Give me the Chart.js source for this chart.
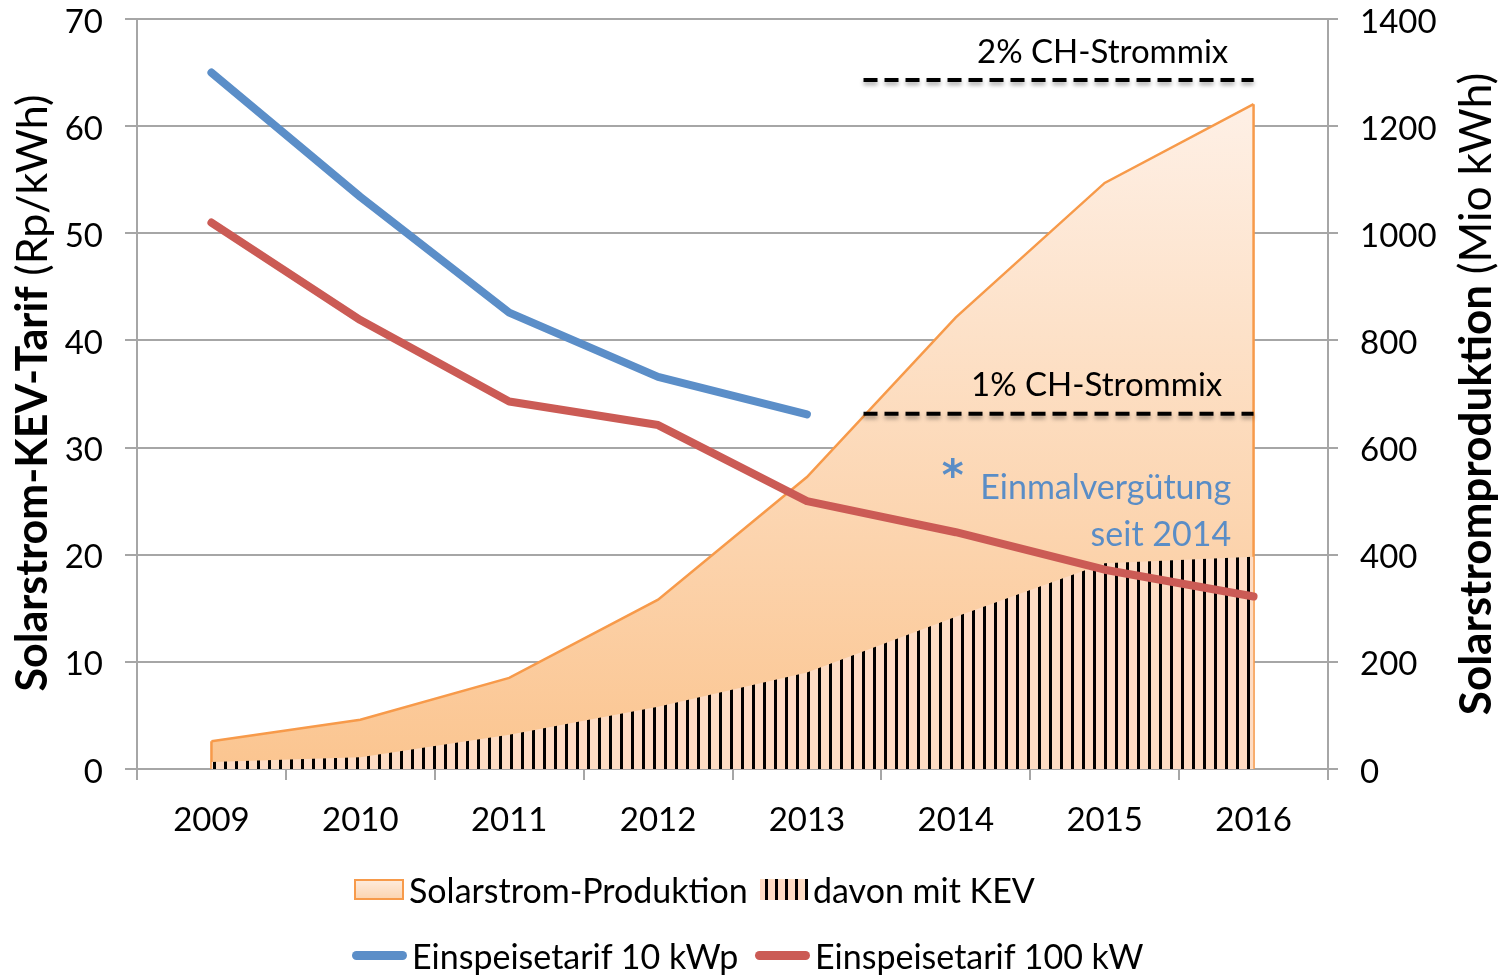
<!DOCTYPE html>
<html lang="de">
<head>
<meta charset="utf-8">
<title>Solarstrom KEV</title>
<script src="https://cdn.jsdelivr.net/npm/chart.js@4.4.1/dist/chart.umd.min.js"></script>
<style>
  html, body { margin: 0; padding: 0; background: #fff; }
  #wrap { position: relative; width: 1504px; height: 975px; }
  #chart { position: absolute; left: 0; top: 0; }
  .leg { position: absolute; display: flex; align-items: center; font-family: Lato, sans-serif; font-size: 34px; color: #000; white-space: nowrap; }
  .swatch { display: inline-block; margin-right: 5px; box-sizing: border-box; }
  .box { width: 50px; height: 21px; border: 2px solid #f79a4a; background: linear-gradient(#fdeadb, #fcd5b2); }
  .hatch { width: 48px; height: 21px; background: repeating-linear-gradient(90deg, #fddcc4 0 5px, #000 5px 8px, #fddcc4 8px 10px); }
  .ln { width: 55px; height: 9px; border-radius: 5px; }
</style>
</head>
<body>
<div id="wrap">
  <canvas id="chart" width="1504" height="975"></canvas>
  <div class="leg" style="left:354px; top:869px;"><span class="swatch box"></span>Solarstrom-Produktion</div>
  <div class="leg" style="left:760px; top:869px;"><span class="swatch hatch"></span>davon mit KEV</div>
  <div class="leg" style="left:352px; top:935px;"><span class="swatch ln" style="background:#5b8ec8"></span>Einspeisetarif 10 kWp</div>
  <div class="leg" style="left:755px; top:935px;"><span class="swatch ln" style="background:#cb5b55"></span>Einspeisetarif 100 kW</div>
</div>
<script>
const years = ["2009", "2010", "2011", "2012", "2013", "2014", "2015", "2016"];

// Einspeisetarif (Rp/kWh), linke Achse
const tarif10kWp = [65, 53.4, 42.6, 36.6, 33.1, null, null, null];
const tarif100kW = [51, 41.9, 34.3, 32.1, 25, 22.1, 18.6, 16.1];

// Solarstromproduktion (Mio kWh), rechte Achse
const produktion = [52, 92, 170, 316, 545, 843, 1094, 1241];
const davonKEV = [13, 22, 64, 116, 180, 284, 384, 396];

// CH-Strommix-Schwellen (Mio kWh) und Startpunkt (Index auf der Jahresachse)
const strommixLabels = ["1% CH-Strommix", "2% CH-Strommix"];
const strommixValues = [663, 1286];
const strommixFrom = 4.38;
const strommixTo = 7;

const notiz = ["Einmalvergütung", "seit 2014"];

const FONT = "Lato, sans-serif";
const GRID = "#a6a6a6";
const ORANGE = "#f79a4a";

const ctx = document.getElementById("chart");

// Schraffur fuer "davon mit KEV"
function makeHatch() {
  const c = document.createElement("canvas");
  c.width = 11;
  c.height = 11;
  const g = c.getContext("2d");
  g.fillStyle = "#fddcc4";
  g.fillRect(0, 0, 11, 11);
  g.fillStyle = "#000";
  g.fillRect(4, 0, 3, 11);
  return g.createPattern(c, "repeat");
}
const hatch = makeHatch();

function areaGradient(context) {
  const { chart } = context;
  const area = chart.chartArea;
  if (!area) return "#fdd9bb";
  const top = chart.scales.y1.getPixelForValue(Math.max(...produktion));
  const grad = chart.ctx.createLinearGradient(0, top, 0, area.bottom);
  grad.addColorStop(0, "#fef0e6");
  grad.addColorStop(1, "#fbc590");
  return grad;
}

const lineShadow = {
  id: "lineShadow",
  beforeDatasetDraw(chart, args) {
    const ds = chart.data.datasets[args.index];
    if (!ds.dashShadow) return;
    chart.ctx.save();
    chart.ctx.shadowColor = "rgba(0,0,0,0.35)";
    chart.ctx.shadowBlur = 4;
    chart.ctx.shadowOffsetY = 3;
  },
  afterDatasetDraw(chart, args) {
    const ds = chart.data.datasets[args.index];
    if (ds.dashShadow) {
      chart.ctx.restore();
      return;
    }
    // senkrechte Randlinien der Produktionsflaeche
    if (ds.edgeBorder) {
      const pts = args.meta.data;
      const base = chart.scales.y1.getPixelForValue(0);
      const c = chart.ctx;
      c.save();
      c.strokeStyle = ORANGE;
      c.lineWidth = 2.5;
      c.beginPath();
      [pts[0], pts[pts.length - 1]].forEach((p) => {
        c.moveTo(p.x, p.y);
        c.lineTo(p.x, base);
      });
      c.stroke();
      c.restore();
    }
  }
};

// Achsentitel (fett + normal) und Beschriftungen im Diagramm
const texts = {
  id: "texts",
  afterDraw(chart) {
    const c = chart.ctx;
    const xd = chart.scales.xd;
    const y1 = chart.scales.y1;

    function vertTitle(x, cy, bold, normal, size) {
      c.save();
      c.translate(x, cy);
      c.rotate(-Math.PI / 2);
      c.textBaseline = "middle";
      c.fillStyle = "#000";
      c.font = "bold " + size + "px " + FONT;
      const wb = c.measureText(bold + " ").width;
      c.font = size + "px " + FONT;
      const wn = c.measureText(normal).width;
      const x0 = -(wb + wn) / 2;
      c.textAlign = "left";
      c.font = "bold " + size + "px " + FONT;
      c.fillText(bold + " ", x0, 0);
      c.font = size + "px " + FONT;
      c.fillText(normal, x0 + wb, 0);
      c.restore();
    }
    vertTitle(33, 393, "Solarstrom-KEV-Tarif", "(Rp/kWh)", 43);
    vertTitle(1477, 394, "Solarstromproduktion", "(Mio kWh)", 44);

    c.save();
    c.fillStyle = "#000";
    c.font = "33px " + FONT;
    c.textAlign = "right";
    c.textBaseline = "middle";
    const xr = xd.getPixelForValue(6.83);
    strommixLabels.forEach((t, i) => {
      c.fillText(t, xr - (i === 0 ? 6 : 0), y1.getPixelForValue(strommixValues[i]) - 28);
    });

    c.fillStyle = "#5a8dc6";
    c.font = "34px " + FONT;
    const xn = xd.getPixelForValue(6.85);
    c.fillText(notiz[0], xn, 488);
    c.fillText(notiz[1], xn, 535);
    c.font = "bold 42px 'DejaVu Sans'";
    c.textAlign = "center";
    c.textBaseline = "alphabetic";
    c.fillText("*", xd.getPixelForValue(4.98), 490);
    c.restore();
  }
};

function noPad(s) {
  s.paddingTop = 0;
  s.paddingBottom = 0;
}

new Chart(ctx, {
  type: "line",
  data: {
    labels: years,
    datasets: [
      {
        label: "Einspeisetarif 10 kWp",
        data: tarif10kWp,
        yAxisID: "y",
        borderColor: "#5b8ec8",
        borderWidth: 8,
        borderCapStyle: "round",
        borderJoinStyle: "round",
        pointRadius: 0,
        fill: false,
        order: 1
      },
      {
        label: "Einspeisetarif 100 kW",
        data: tarif100kW,
        yAxisID: "y",
        borderColor: "#cb5b55",
        borderWidth: 8,
        borderCapStyle: "round",
        borderJoinStyle: "round",
        pointRadius: 0,
        fill: false,
        order: 1
      },
      {
        label: "davon mit KEV",
        data: davonKEV,
        yAxisID: "y1",
        borderWidth: 0,
        borderColor: "rgba(0,0,0,0)",
        backgroundColor: hatch,
        pointRadius: 0,
        fill: "origin",
        order: 2
      },
      {
        label: "Solarstrom-Produktion",
        data: produktion,
        yAxisID: "y1",
        borderColor: ORANGE,
        borderWidth: 2.5,
        backgroundColor: areaGradient,
        pointRadius: 0,
        fill: "origin",
        edgeBorder: true,
        order: 3
      },
      ...strommixValues.map((v, i) => ({
        label: strommixLabels[i],
        data: [{ x: strommixFrom, y: v }, { x: strommixTo, y: v }],
        xAxisID: "xd",
        yAxisID: "y1",
        borderColor: "#000",
        borderWidth: 4,
        borderDash: [14, 7],
        pointRadius: 0,
        fill: false,
        dashShadow: true,
        order: 0
      }))
    ]
  },
  options: {
    responsive: false,
    animation: false,
    layout: { padding: { left: 0, right: 0, top: 19, bottom: 0 } },
    plugins: {
      legend: { display: false },
      tooltip: { enabled: false }
    },
    scales: {
      x: {
        type: "category",
        offset: true,
        grid: { display: true, drawOnChartArea: false, offset: true, color: GRID, lineWidth: 2, tickLength: 11 },
        border: { color: GRID, width: 2 },
        ticks: { color: "#000", font: { family: FONT, size: 33 }, padding: 21, maxRotation: 0 },
        afterFit: (s) => { s.height = 206; s.paddingLeft = 0; s.paddingRight = 0; }
      },
      xd: {
        type: "linear",
        display: false,
        min: -0.5,
        max: 7.5
      },
      y: {
        position: "left",
        min: 0,
        max: 70,
        ticks: { stepSize: 10, color: "#000", font: { family: FONT, size: 33 }, padding: 22, labelOffset: 3 },
        grid: { color: GRID, lineWidth: 2, tickLength: 12 },
        border: { color: GRID, width: 2 },
        afterFit: (s) => { s.width = 137; noPad(s); }
      },
      y1: {
        position: "right",
        min: 0,
        max: 1400,
        ticks: {
          stepSize: 200,
          color: "#000",
          font: { family: FONT, size: 33 },
          padding: 22,
          labelOffset: 3,
          callback: (v) => String(v)
        },
        grid: { drawOnChartArea: false, color: GRID, lineWidth: 2, tickLength: 10 },
        border: { color: GRID, width: 2 },
        afterFit: (s) => { s.width = 176; noPad(s); }
      }
    }
  },
  plugins: [lineShadow, texts]
});
</script>
</body>
</html>
